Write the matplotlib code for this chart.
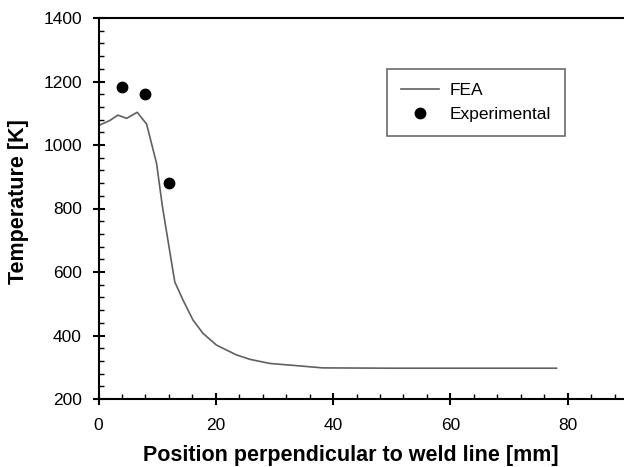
import numpy as np
import matplotlib
matplotlib.use("Agg")
from matplotlib import pyplot as plt
from matplotlib.ticker import MultipleLocator

plt.rcParams['font.family'] = ['Liberation Sans', 'DejaVu Sans']

# FEA temperature profile across the weld
fea_x = [0, 1.9, 3.3, 4.8, 6.6, 8.2, 9.9, 10.9, 13.0, 14.4, 16.1, 17.8,
         20.1, 23.5, 25.8, 29.2, 33.8, 38.2, 50, 65, 78.1]
fea_t = [1061, 1077, 1094, 1084, 1103, 1066, 942, 806, 569, 512, 449, 407,
         370, 339, 325, 312, 305, 298, 297, 297, 297]

# measured points
exp_x = [4.0, 7.9, 12.0]
exp_t = [1182, 1162, 881]

fig = plt.figure(figsize=(6.24, 4.67), dpi=100)
ax = fig.add_axes([98.5/624, 1-399/467, 1-98.5/624, (399-18)/467])

ax.plot(fea_x, fea_t, color='#606060', lw=1.2, label='FEA')
ax.plot(exp_x, exp_t, 'o', color='black', ms=7.5, label='Experimental')

ax.set_xlim(0, 89.6)
ax.set_ylim(200, 1400)
ax.xaxis.set_major_locator(MultipleLocator(20))
ax.xaxis.set_minor_locator(MultipleLocator(4))
ax.yaxis.set_major_locator(MultipleLocator(200))
ax.yaxis.set_minor_locator(MultipleLocator(40))
ax.spines['right'].set_visible(False)
for s in ['left', 'bottom', 'top']:
    ax.spines[s].set_linewidth(1.5)
ax.tick_params(which='major', direction='inout', length=9, width=1.5, labelsize=12.5,
               top=False, right=False)
ax.tick_params(axis='y', which='major', pad=7.5)
ax.tick_params(axis='x', which='major', pad=9)
ax.tick_params(which='minor', direction='in', length=3.5, width=1,
               top=False, right=False)

ax.set_xlabel('Position perpendicular to weld line [mm]', fontsize=15.5,
              fontweight='bold')
ax.set_ylabel('Temperature [K]', fontsize=15.5, fontweight='bold')
ax.xaxis.label.set_va('center')
ax.yaxis.label.set_va('center')
ax.xaxis.set_label_coords((351-98.5)/525.5, -(455-399)/381)
ax.yaxis.set_label_coords(-(98.5-18.5)/525.5, (399-201.5)/381)

leg = ax.legend(loc='upper left', bbox_to_anchor=((387-98.5)/525.5, 1-(69-18)/381),
                fontsize=12.5, frameon=True, fancybox=False, borderpad=0.8,
                handlelength=2.2, handletextpad=0.6, labelspacing=0.5,
                borderaxespad=0)
leg.get_frame().set_edgecolor('#444444')
leg.get_frame().set_linewidth(1.2)

plt.savefig('out.png', dpi=100)
